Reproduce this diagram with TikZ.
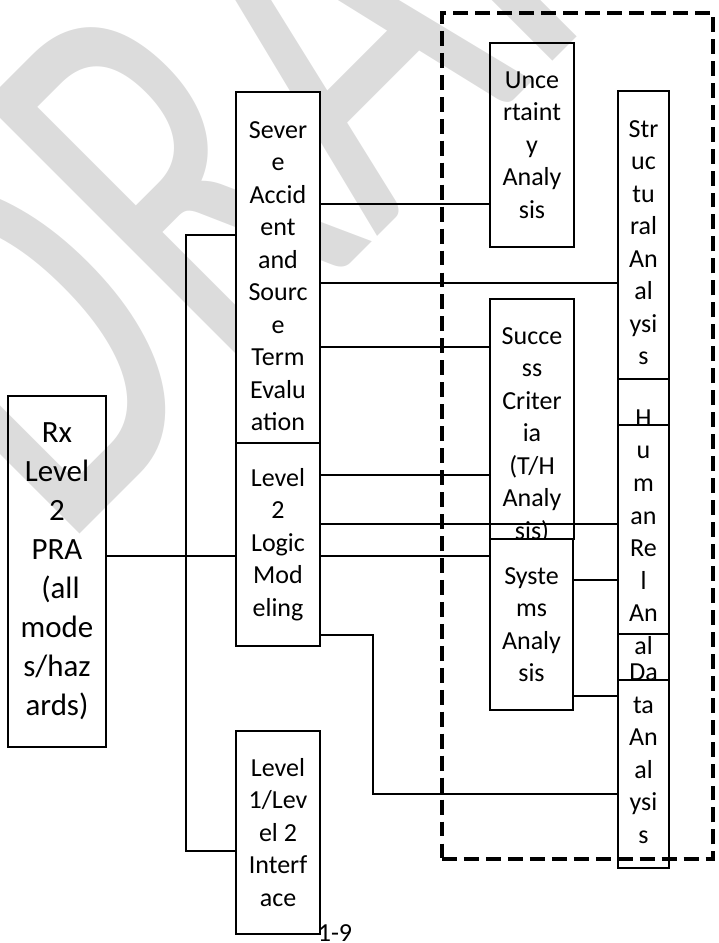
\documentclass[tikz,border=0pt]{standalone}
\usepackage{fontspec}
\setmainfont{Carlito}
\newfontfamily\wmfont[FakeStretch=0.664]{Carlito}
\usepackage{xcolor}
\definecolor{wmgray}{RGB}{220,220,220}

\begin{document}
\begin{tikzpicture}[x=0.02cm, y=-0.02cm,
  % Node Styles
  pbox/.style={rectangle, draw, line width=1.2pt, fill=white, inner sep=0pt, outer sep=0pt, minimum width=1.68cm, align=center},
  obox/.style={pbox, fill=none},
  colbox/.style={obox, minimum width=1.02cm},
  txt/.style={align=center, inner sep=0pt},
  wmark/.style={text=wmgray, font=\wmfont\fontsize{330}{330}\selectfont, rotate=45, anchor=base west, inner sep=0pt},
  % Line Styles
  conn/.style={line width=1pt},
  zone/.style={rectangle, draw, line width=2.3pt, dash pattern=on 8.5pt off 4pt, inner sep=0pt}
]
\tikzset{font=\fontsize{14.8}{18.5}\selectfont}
\useasboundingbox (0,0) rectangle (718,943);

% Diagram for: level 2 PRA

\node[wmark] (wm) at (61,553) {DRAFT};

\node[obox, minimum width=1.96cm, minimum height=7.02cm, font=\fontsize{17.6}{22.2}\selectfont] (rx) at (57,571.5) {Rx\\Level\\2\\PRA\\\mbox{\ }(all\\mode\\s/haz\\ards)};
\node[pbox, minimum height=7.02cm] (sev) at (278,267.5) {};
\node[txt] (sevtxt) at (278,276) {Sever\\e\\Accid\\ent\\and\\Sourc\\e\\Term\\Evalu\\ation};
\node[pbox, minimum height=4.06cm] (logic) at (278,544.5) {Level\\2\\Logic\\Mod\\eling};
\node[pbox, minimum height=4.06cm] (iface) at (278,832.5) {Level\\1/Lev\\el 2\\Interf\\ace};
\node[obox, minimum height=4.08cm] (unc) at (532,145) {Unce\\rtaint\\y\\Analy\\sis};
\node[pbox, minimum height=4.8cm] (succ) at (532,419) {};
\node[txt] (succtxt) at (532,435) {Succe\\ss\\Criter\\ia\\(T/H\\Analy\\sis)};

\node[colbox, minimum height=5.76cm] (struct) at (643.5,235) {};
\node[colbox, minimum height=5.1cm] (human) at (643.5,506.5) {};
\node[colbox, minimum height=4.68cm] (data) at (643.5,751) {};
\node[colbox, minimum height=5.1cm] (hraframe) at (643.5,552.5) {};

\draw[conn] (sev.west |- 0,235) -| (186,851) -- (iface.west |- 0,851);
\draw[conn] (rx.east |- 0,556) -- (logic.west |- 0,556);
\draw[conn] (sev.east |- 0,204) -- (unc.west |- 0,204);
\draw[conn] (sev.east |- 0,283) -- (struct.west |- 0,283);
\draw[conn] (sev.east |- 0,347) -- (succ.west |- 0,347);
\draw[conn] (logic.east |- 0,475) -- (succ.west |- 0,475);
\draw[conn] (logic.east |- 0,524) -- (human.west |- 0,524);

\node[pbox, minimum width=1.66cm, minimum height=3.42cm] (sys) at (531.5,624.5) {Syste\\ms\\Analy\\sis};

\draw[conn] (logic.east |- 0,556) -- (sys.west |- 0,556);
\draw[conn] (sys.east |- 0,580) -- (human.west |- 0,580);
\draw[conn] (sys.east |- 0,696) -- (data.west |- 0,696);
\draw[conn] (logic.east |- 0,635) -- (373,635) |- (data.west |- 0,794);

\node[txt] (structtxt) at (643.5,242.5) {Str\\uc\\tu\\ral\\An\\al\\ysi\\s};
\node[txt] (humantxt) at (643.5,532) {H\\u\\m\\an\\Re\\l\\An\\al};
\node[txt] (datatxt) at (643.5,753.5) {Da\\ta\\An\\al\\ysi\\s};

\node[zone, minimum width=5.42cm, minimum height=16.92cm] (grp) at (577.5,436) {};

\node[anchor=base] (pgno) at (335,941) {1-9};

\end{tikzpicture}
\end{document}
